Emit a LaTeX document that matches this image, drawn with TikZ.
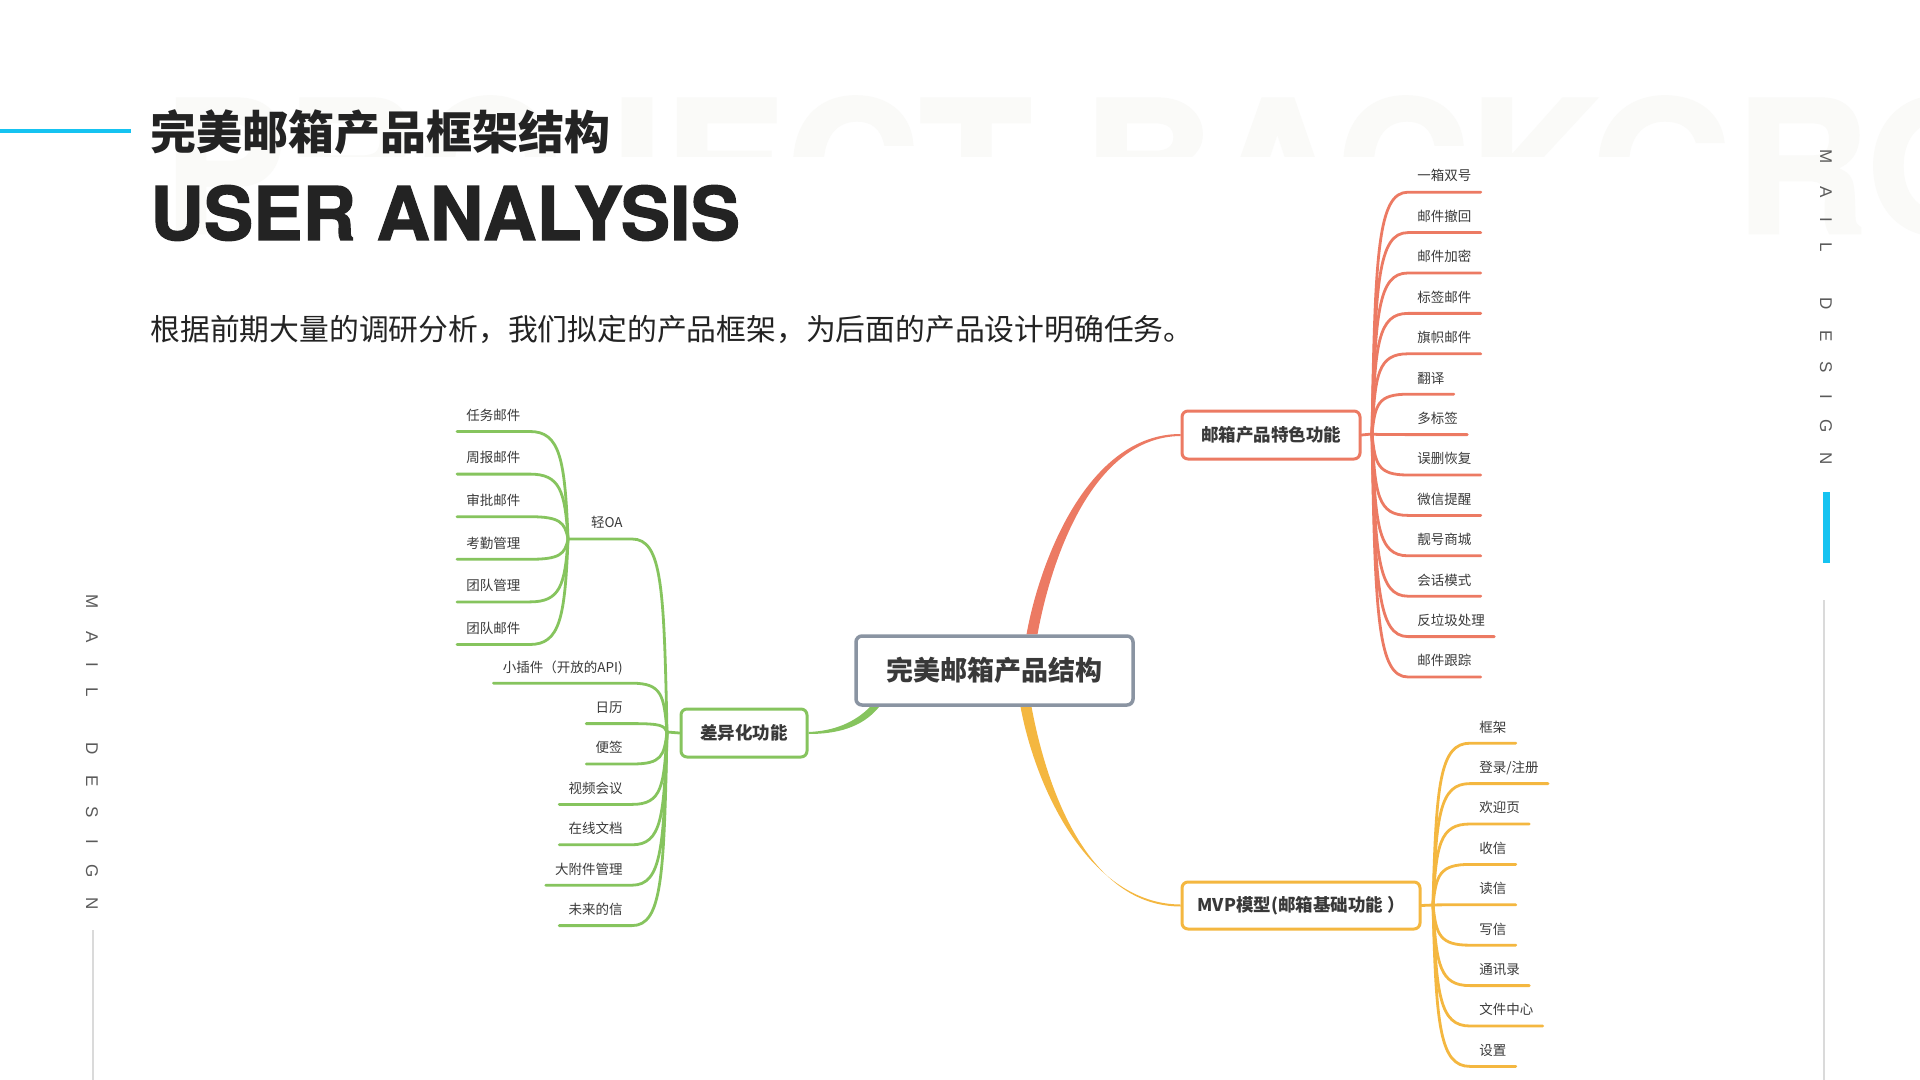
\documentclass[tikz,border=0pt]{standalone}
\usepackage{fontspec}
\setmainfont{Noto Sans CJK SC}
\newfontfamily\herosfont{TeX Gyre Heros}
\newfontfamily\heavyfont[FakeBold=1.6]{TeX Gyre Heros}
\newfontfamily\sidefont{Liberation Sans}
\usepackage{tikz}
\usetikzlibrary{calc, backgrounds, positioning}

\definecolor{redbr}{HTML}{EC7A63}
\definecolor{greenbr}{HTML}{86C45E}
\definecolor{yellowbr}{HTML}{F4B740}
\definecolor{rootgray}{HTML}{8A94A2}
\definecolor{inkdark}{HTML}{232323}
\definecolor{leafink}{HTML}{3A3A3A}
\definecolor{cyanbar}{HTML}{16C3F1}
\definecolor{markgray}{HTML}{FAFAF8}
\definecolor{sidegray}{HTML}{5A5A5A}
\definecolor{rulegray}{HTML}{DADADA}

\tikzset{
  rootbox/.style={draw=rootgray, line width=1.75pt, rounded corners=3pt, fill=white,
    minimum width=138.5pt, minimum height=34.5pt, inner sep=0pt, text=inkdark!90,
    font=\bfseries\fontsize{13.5}{15}\selectfont},
  branchbox/.style={line width=1.5pt, rounded corners=3pt, fill=white,
    minimum height=24pt, inner sep=0pt, text=inkdark!90,
    font=\bfseries\fontsize{8.75}{10}\selectfont},
  leaf/.style={font=\fontsize{6.75}{8}\selectfont, text=leafink,
    inner xsep=4.5pt, inner ysep=4.6pt, text height=5.8pt, text depth=0.8pt},
  leafline/.style={line width=1.4pt, line cap=round},
  sidetxt/.style={font=\sidefont\fontsize{8.5}{9}\selectfont, text=sidegray,
    rotate=-90, inner sep=0pt}
}

\begin{document}
\begin{tikzpicture}[x=0.5pt, y=-0.5pt]
  \useasboundingbox (0,0) rectangle (1920,1080);

  % faint background lettering
  \begin{scope}
    \clip (0,0) rectangle (1920,157) (0,157) rectangle (290,300) (1745,157) rectangle (1920,300);
    \node[anchor=base west, inner sep=0pt, text=markgray,
      font=\heavyfont\bfseries\fontsize{92}{92}\selectfont] (mark) at (163,233) {PROJECT BACKGROUND};
  \end{scope}

  % Heading
  \draw[cyanbar, line width=2pt] (0,131) -- (131,131);
  \node[anchor=west, inner sep=0pt, text=inkdark, font=\bfseries\fontsize{23}{26}\selectfont] (title) at (150,132) {完美邮箱产品框架结构};
  \node[anchor=west, inner sep=0pt, text=inkdark, font=\heavyfont\bfseries\fontsize{37}{40}\selectfont] (subtitle) at (150,213) {USER ANALYSIS};
  \node[anchor=west, inner sep=0pt, text=inkdark, font=\fontsize{14.9}{17}\selectfont] (intro) at (150,329) {根据前期大量的调研分析，我们拟定的产品框架，为后面的产品设计明确任务。};

  % Side marks
  \foreach \ch/\yy [count=\i] in {M/157, A/192, I/220, L/247, D/304, E/336, S/367, I/397, G/426, N/459} {
    \node[sidetxt] (rside\i) at (1826,\yy) {\ch};
    \node[sidetxt] (lside\i) at (92,\yy+445) {\ch};
  }
  \fill[cyanbar] (1822.5,492) rectangle (1829.5,563);
  \draw[rulegray, line width=0.75pt] (1824,600) -- (1824,1080);
  \draw[rulegray, line width=0.75pt] (93,930) -- (93,1080);

  % Main nodes
  \node[rootbox] (root) at (994.5,670.5) {完美邮箱产品结构};
  \node[branchbox, draw=redbr, minimum width=89pt] (feat) at (1271,435) {邮箱产品特色功能};
  \node[branchbox, draw=greenbr, minimum width=63pt] (diff) at (744,733) {差异化功能};
  \node[branchbox, draw=yellowbr, minimum width=119pt, minimum height=23.5pt] (mvp) at (1301,905.5) {MVP模型(邮箱基础功能 ）};

  % Fan points
  \coordinate (featfan) at (1372,434);
  \coordinate (mvpfan) at (1433,905);
  \coordinate (difffan) at (667,732);
  \coordinate (oafan) at (568,539);

  % Leaves
  \foreach \lbl [count=\i] in {一箱双号, 邮件撤回, 邮件加密, 标签邮件, 旗帜邮件, 翻译, 多标签, 误删恢复, 微信提醒, 靓号商城, 会话模式, 反垃圾处理, 邮件跟踪}
    \node[leaf, anchor=south west] (feat\i) at (1408,{192.2+40.4*(\i-1)}) {\lbl};
  \foreach \lbl [count=\i] in {框架, 登录/注册, 欢迎页, 收信, 读信, 写信, 通讯录, 文件中心, 设置}
    \node[leaf, anchor=south west] (mvp\i) at (1470,{743.2+40.4*(\i-1)}) {\lbl};
  \foreach \lbl [count=\i] in {小插件（开放的API), 日历, 便签, 视频会议, 在线文档, 大附件管理, 未来的信}
    \node[leaf, anchor=south east] (diff\i) at (632,{683.2+40.4*(\i-1)}) {\lbl};
  \node[leaf, anchor=south east] (oa) at (632,539) {轻OA};
  \foreach \lbl [count=\i] in {任务邮件, 周报邮件, 审批邮件, 考勤管理, 团队管理, 团队邮件}
    \node[leaf, anchor=south west] (oa\i) at (457,{431.5+42.6*(\i-1)}) {\lbl};

  % Connectors
  \begin{scope}[on background layer]
    \fill[white] (0,0) rectangle (1920,1080);
    % tapered main branches
    \fill[redbr] ($(root.north)+(32,0)$) .. controls (1040,560) and (1088,434) .. ($(feat.west)+(0,-1)$)
      -- ($(feat.west)+(0,1)$) .. controls (1092,437) and (1051,560) .. ($(root.north)+(43,0)$) -- cycle;
    \fill[yellowbr] ($(root.south)+(26,0)$) .. controls (1036,790) and (1090,904) .. ($(mvp.west)+(0,-1)$)
      -- ($(mvp.west)+(0,1)$) .. controls (1088,906) and (1047,790) .. ($(root.south)+(37,0)$) -- cycle;
    \fill[greenbr] ($(root.south west)+(16,0)$) .. controls (855,722) and (835,731) .. ($(diff.east)+(0,-1)$)
      -- ($(diff.east)+(0,1)$) .. controls (836,734) and (862,728) .. ($(root.south west)+(25,0)$) -- cycle;

    % red fan
    \draw[leafline, redbr] (feat.east) -- (featfan);
    \foreach \i in {1,...,13} {
      \pgfmathsetmacro{\dy}{0.75*(192.2+40.4*(\i-1)-434)}
      \draw[leafline, redbr] (featfan) .. controls +(3,\dy) and +(-30,0) .. (feat\i.south west) -- (feat\i.south east);
    }
    % yellow fan
    \draw[leafline, yellowbr] (mvp.east) -- (mvpfan);
    \foreach \i in {1,...,9} {
      \pgfmathsetmacro{\dy}{0.75*(743.2+40.4*(\i-1)-905)}
      \draw[leafline, yellowbr] (mvpfan) .. controls +(3,\dy) and +(-30,0) .. (mvp\i.south west) -- (mvp\i.south east);
    }
    % green fan
    \draw[leafline, greenbr] (diff.west) -- (difffan);
    \foreach \i in {1,...,7} {
      \pgfmathsetmacro{\dy}{0.75*(683.2+40.4*(\i-1)-732)}
      \draw[leafline, greenbr] (difffan) .. controls +(-3,\dy) and +(30,0) .. (diff\i.south east) -- (diff\i.south west);
    }
    \draw[leafline, greenbr] (difffan) .. controls +(-3,-145) and +(30,0) .. (oa.south east) -- (oafan);
    \foreach \i in {1,...,6} {
      \pgfmathsetmacro{\dy}{0.75*(431.5+42.6*(\i-1)-539)}
      \draw[leafline, greenbr] (oafan) .. controls +(-3,\dy) and +(30,0) .. (oa\i.south east) -- (oa\i.south west);
    }
  \end{scope}
\end{tikzpicture}
\end{document}
